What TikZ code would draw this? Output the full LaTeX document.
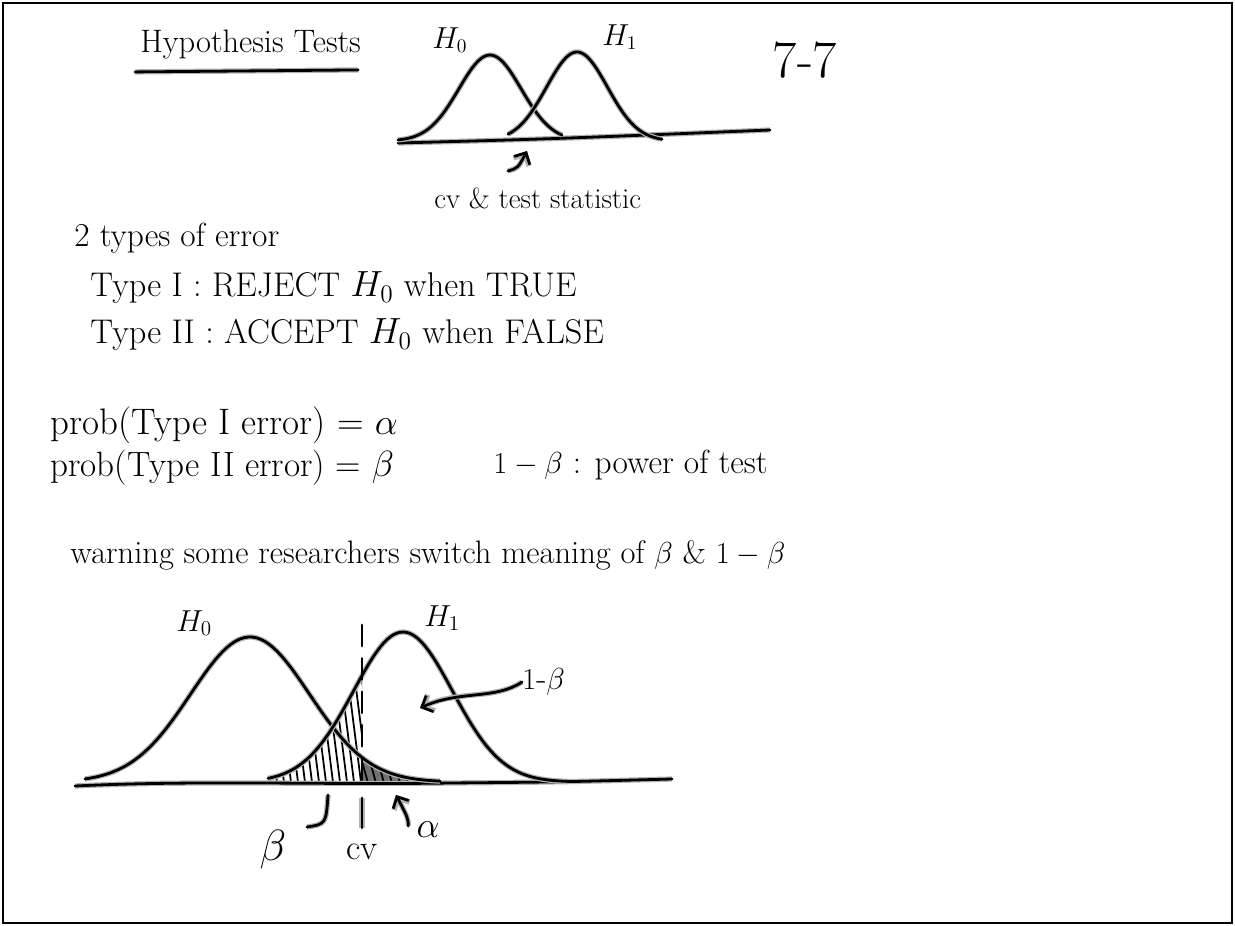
\documentclass[tikz,border=0pt]{standalone}
\usepackage{amsmath}
\usetikzlibrary{arrows.meta,positioning,calc}

\tikzset{
  ink/.style={line width=1.6pt, line cap=round, line join=round,
    preaction={draw=black!30, line width=3pt}},
  scrawl/.style={inner sep=0pt, anchor=west},
  hatchline/.style={line width=1pt},
  pointer/.style={ink, -{Straight Barb[length=5pt,width=10pt]}}
}
\newcommand{\penfont}[1]{\fontsize{#1}{#1}\selectfont}

\begin{document}
\begin{tikzpicture}[x=0.02cm,y=-0.02cm]
  \useasboundingbox (0,0) rectangle (1235,926);
  \draw[line width=1.2pt] (3,3) rectangle (1232,923);

  % Title and top sketch
  \node[scrawl,font=\penfont{18.5}] (title) at (140,45) {Hypothesis Tests};
  \draw[ink] ($(title.south west)+(-5,12)$) -- ($(title.south east)+(-3,10)$);
  \node[scrawl,font=\penfont{16}] (h0top) at (432,40) {$H_0$};
  \node[scrawl,font=\penfont{16}] (h1top) at (602,37) {$H_1$};
  \node[font=\penfont{30}] (page) at (805,60) {7-7};

  \draw[ink] (398,143) .. controls (550,139) .. (770,130);
  \draw[ink] plot[domain=398:562,samples=60,smooth] (\x,{141-86*exp(0-((\x-490)/44)^2)});
  \draw[ink] plot[domain=508:662,samples=60,smooth] (\x,{141-89*exp(0-((\x-577)/43)^2)});

  \node[scrawl,font=\penfont{16.5}] (cvtest) at (434,198) {cv \& test statistic};
  \coordinate (cvfoot) at (508,171);
  \coordinate (cvtip) at (527,151);
  \draw[pointer] (cvfoot) .. controls (518,168) .. (cvtip);

  % Error types
  \node[scrawl,font=\penfont{19}] (types) at (74,238) {2 types of error};
  \node[scrawl,font=\penfont{19.5}] (typeI) at (90,288) {Type I : REJECT $H_0$ when TRUE};
  \node[scrawl,font=\penfont{19.5}] (typeII) at (90,335) {Type II : ACCEPT $H_0$ when FALSE};

  \node[scrawl,font=\penfont{21}] (probI) at (50,425) {prob(Type I error) = $\alpha$};
  \node[scrawl,font=\penfont{20}] (probII) at (50,468) {prob(Type II error) = $\beta$};
  \node[scrawl,font=\penfont{19}] (power) at (493,465) {$1-\beta$ : power of test};
  \node[scrawl,font=\penfont{18.5}] (warn) at (70,555) {warning some researchers switch meaning of $\beta$ \& $1-\beta$};

  % Bottom sketch
  \node[scrawl,font=\penfont{17}] (h0bot) at (176,623) {$H_0$};
  \node[scrawl,font=\penfont{17}] (h1bot) at (424,618) {$H_1$};

  % beta area
  \begin{scope}
    \clip plot[domain=265:362,samples=40] (\x,{782-150*exp(0-((\x-403)/70)^2)}) -- (362,783) -- (265,783) -- cycle;
    \foreach \k in {250,257,...,372}
      \draw[hatchline] (\k,680) -- (\k+14,790);
  \end{scope}
  % alpha area
  \begin{scope}
    \clip (362,783) -- plot[domain=362:440,samples=40] (\x,{782-145*exp(0-((\x-250)/84)^2)}) -- (440,783) -- cycle;
    \fill[black!55] (355,700) rectangle (445,790);
    \foreach \k in {340,348,...,450}
      \draw[hatchline] (\k,740) -- (\k+14,790);
  \end{scope}

  \coordinate (axl) at (75,786);
  \coordinate (axr) at (672,779);
  \draw[ink] (axl) .. controls (200,780) and (320,785) .. (450,783) .. controls (560,782) .. (axr);
  \draw[ink] plot[domain=85:440,samples=90,smooth] (\x,{782-145*exp(0-((\x-250)/84)^2)});
  \draw[ink] plot[domain=268:568,samples=90,smooth] (\x,{782-150*exp(0-((\x-403)/70)^2)});

  \coordinate (cvtop) at (362,625);
  \coordinate (cvaxis) at (362,782);
  \draw[line width=1.6pt,line cap=round,dash pattern=on 12pt off 7pt] (cvtop) -- (cvaxis);

  \node[scrawl,font=\penfont{19}] (onemb) at (522,682) {$1$-$\beta$};
  \coordinate (powtip) at (420,708);
  \draw[pointer] (onemb.west) .. controls (495,700) and (460,690) .. (powtip);

  \node[font=\penfont{24}] (betalab) at (273,850) {$\beta$};
  \node[font=\penfont{20}] (cvlab) at (362,852) {cv};
  \node[font=\penfont{22}] (alphalab) at (428,830) {$\alpha$};

  \coordinate (betafoot) at (307,827);
  \coordinate (betatip) at (328,795);
  \draw[ink] (betafoot) .. controls (326,824) .. (betatip);
  \draw[ink] ($(cvlab.north)+(0,-10)$) -- ++(0,-30);
  \coordinate (alphatip) at (396,795);
  \draw[pointer] ($(alphalab.west)+(-2,-4)$) .. controls (408,818) .. (alphatip);
\end{tikzpicture}
\end{document}
